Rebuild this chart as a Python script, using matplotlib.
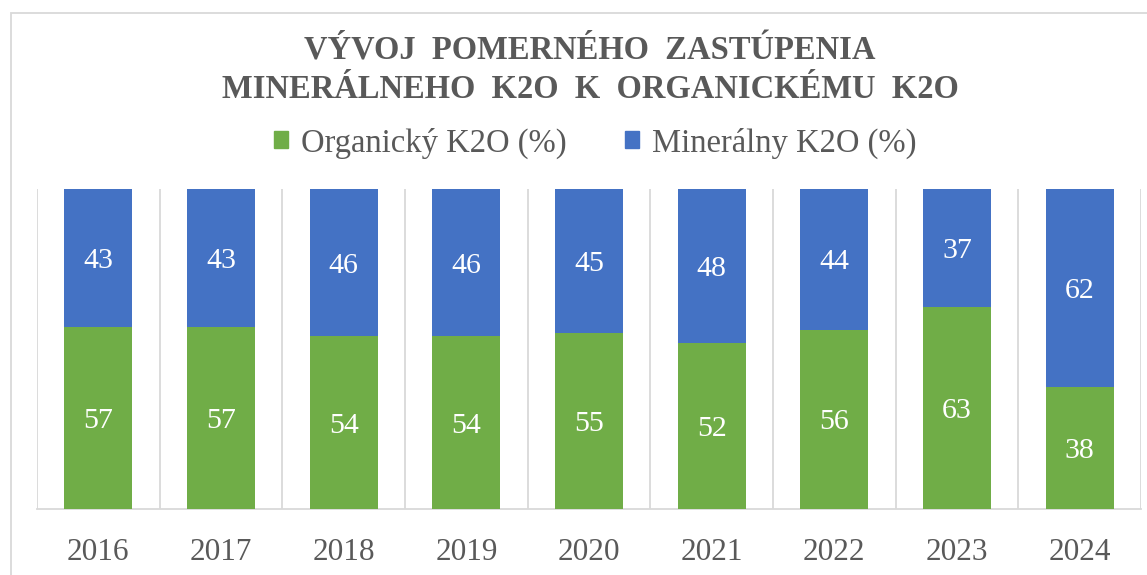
import matplotlib
matplotlib.use("Agg")
import matplotlib.pyplot as plt
import numpy as np
from matplotlib.patches import Rectangle, Patch

years = ["2016", "2017", "2018", "2019", "2020", "2021", "2022", "2023", "2024"]
organic = [57, 57, 54, 54, 55, 52, 56, 63, 38]
mineral = [43, 43, 46, 46, 45, 48, 44, 37, 62]

title_lines = ["VÝVOJ  POMERNÉHO  ZASTÚPENIA", "MINERÁLNEHO  K2O  K  ORGANICKÉMU  K2O"]
legend_labels = ["Organický K2O (%)", "Minerálny K2O (%)"]

GREEN = "#70AD47"
BLUE = "#4472C4"
TEXT = "#595959"
GRID = "#D9D9D9"
SERIF = ["Liberation Serif", "DejaVu Serif"]

W, H = 1147, 575
fig = plt.figure(figsize=(W / 100, H / 100), dpi=100)

# outer chart frame (partially cropped)
fig.patches.append(Rectangle((11 / W, -0.1), 1.2, (1 - 13 / H) + 0.1, transform=fig.transFigure,
                             fill=False, edgecolor=GRID, linewidth=1.3))

ax = fig.add_axes([37 / W, (H - 509) / H, 1104 / W, 320 / H])
x = np.arange(len(years))
bw = 0.555
ax.bar(x, organic, bw, color=GREEN, zorder=3)
ax.bar(x, mineral, bw, bottom=organic, color=BLUE, zorder=3)

for i in range(len(years)):
    ax.text(x[i], organic[i] / 2, str(organic[i]), ha="center", va="center_baseline",
            color="white", fontsize=21.5, family=SERIF, zorder=4)
    ax.text(x[i], organic[i] + mineral[i] / 2, str(mineral[i]), ha="center", va="center_baseline",
            color="white", fontsize=21.5, family=SERIF, zorder=4)

ax.set_xlim(-0.5, len(years) - 0.5)
ax.set_ylim(0, 100)
for b in np.arange(-0.5, len(years)):
    ax.axvline(b, color=GRID, linewidth=1.3, zorder=1)
for s in ["top", "left", "right"]:
    ax.spines[s].set_visible(False)
ax.spines["bottom"].set_color(GRID)
ax.spines["bottom"].set_linewidth(1.3)
ax.set_yticks([])
ax.set_xticks(x)
ax.set_xticklabels(years, family=SERIF, fontsize=22.5, color=TEXT)
ax.tick_params(axis="x", length=0, pad=21)

fig.text(590 / W, 1 - 48 / H, title_lines[0], ha="center", va="center_baseline", fontsize=23.5,
         fontweight="bold", color=TEXT, family=SERIF)
fig.text(590 / W, 1 - 86 / H, title_lines[1], ha="center", va="center_baseline", fontsize=23.5,
         fontweight="bold", color=TEXT, family=SERIF)

handles = [Patch(color=GREEN), Patch(color=BLUE)]
fig.legend(handles, legend_labels, loc="center", bbox_to_anchor=(595 / W, 1 - 143 / H),
           ncol=2, frameon=False, handlelength=0.42, handleheight=0.42, handletextpad=0.4,
           columnspacing=1.8, prop={"family": SERIF, "size": 23.5}, labelcolor=TEXT)

fig.savefig("out.png", dpi=100)
